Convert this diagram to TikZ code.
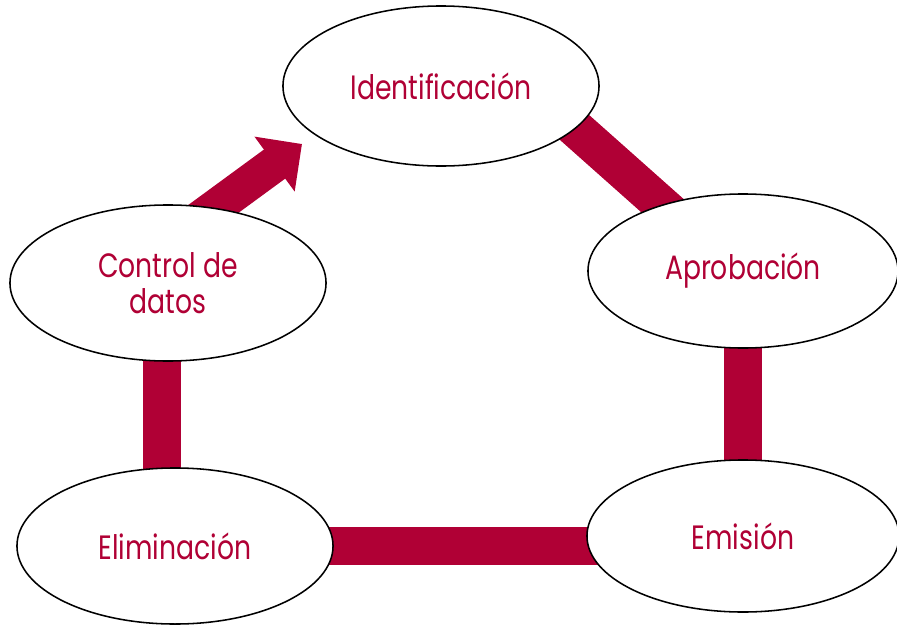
\documentclass[tikz,border=0pt]{standalone}
\usepackage{fontspec}
\setmainfont{Poppins}[FakeStretch=0.79]
\usetikzlibrary{shapes.geometric,arrows.meta,backgrounds}
\definecolor{rojo}{HTML}{B00035}

\tikzset{
  etapa/.style={ellipse,draw=black,line width=1.1pt,fill=white,text=rojo,
    align=center,inner sep=0pt,font=\fontsize{24}{26}\selectfont},
  barra/.style={rojo,line width=0.95cm},
  flecha/.style={rojo,line width=0.9cm,-{Triangle[length=0.85cm,width=1.65cm]}}
}

\begin{document}
\begin{tikzpicture}[x=0.025cm,y=0.025cm]
\useasboundingbox (0,0) rectangle (897,-625);
\node[etapa,minimum width=7.9cm,minimum height=4.0cm] (ident) at (441,-86) {Identificación};
\node[etapa,minimum width=7.75cm,minimum height=3.85cm] (aprob) at (743,-271) {Aprobación};
\node[etapa,minimum width=7.8cm,minimum height=3.8cm] (emis) at (743,-536) {Emisión};
\node[etapa,minimum width=7.9cm,minimum height=3.9cm] (elim) at (175,-546) {Eliminación};
\node[etapa,minimum width=7.9cm,minimum height=3.9cm] (ctrl) at (168,-283) {Control de\\datos};
\coordinate (punta) at (302,-144);

\begin{scope}[on background layer]
\draw[barra] ([shift={(79,7)}]ident.center) -- ([shift={(-43,32)}]aprob.center);
\draw[barra] (aprob.center) -- (emis.center);
\draw[barra] (emis.center) -- (elim.center -| emis.center) -- (elim.center);
\draw[barra] ([xshift=-0.16cm]ctrl.center) -- ([xshift=-0.16cm]ctrl.center |- elim.center);
\draw[flecha] ([shift={(7,46)}]ctrl.center) -- (punta);
\end{scope}
\end{tikzpicture}
\end{document}
